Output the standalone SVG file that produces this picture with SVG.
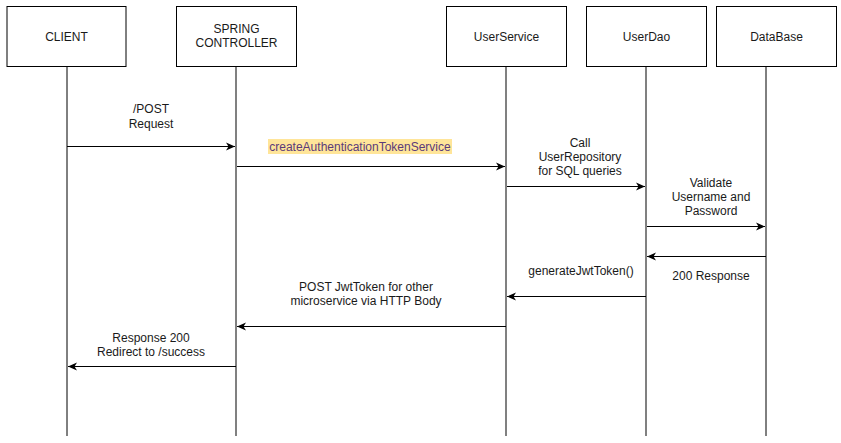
<svg xmlns="http://www.w3.org/2000/svg" width="841" height="443" viewBox="0 0 841 443">
<style>
.box{fill:#fff;stroke:#000;stroke-width:1}
.life{stroke:#000;stroke-width:1;fill:none}
.lifeg{stroke:#808080;stroke-width:2;fill:none}
.msg{stroke:#000;stroke-width:1;fill:none;marker-end:url(#arr)}
text{font-family:"Liberation Sans",Arial,sans-serif;font-size:12px;fill:#1a1a1a;text-anchor:middle}
</style>
<defs>
<marker id="arr" viewBox="0 0 10 10" refX="9" refY="5" markerWidth="10" markerHeight="10" markerUnits="userSpaceOnUse" orient="auto">
<path d="M0,1 L9,5 L0,9 L2.5,5 Z" fill="#000"/>
</marker>
</defs>
<rect width="841" height="443" fill="#fff"/>
<g id="lifelines">
<line class="life" x1="67" y1="66" x2="67" y2="436"/>
<line class="lifeg" x1="236" y1="66" x2="236" y2="436"/>
<line class="lifeg" x1="506" y1="66" x2="506" y2="436"/>
<line class="lifeg" x1="646" y1="66" x2="646" y2="436"/>
<line class="life" x1="766" y1="66" x2="766" y2="436"/>
</g>
<g id="client"><rect class="box" x="7" y="6.5" width="119" height="60"/><text x="66.5" y="41">CLIENT</text></g>
<g id="spring"><rect class="box" x="176.5" y="6.5" width="120" height="60"/><text x="236.5" y="33">SPRING</text><text x="236.5" y="47">CONTROLLER</text></g>
<g id="userservice"><rect class="box" x="446.5" y="6.5" width="120" height="60"/><text x="506.5" y="41">UserService</text></g>
<g id="userdao"><rect class="box" x="586.5" y="6.5" width="120" height="60"/><text x="646.5" y="41">UserDao</text></g>
<g id="database"><rect class="box" x="716.5" y="6.5" width="120" height="60"/><text x="776.5" y="41">DataBase</text></g>
<g id="connectors">
<line class="msg" x1="67" y1="146.5" x2="235" y2="146.5"/>
<line class="msg" x1="237" y1="166.5" x2="505" y2="166.5"/>
<line class="msg" x1="507" y1="186.5" x2="645" y2="186.5"/>
<line class="msg" x1="647" y1="226.5" x2="765" y2="226.5"/>
<line class="msg" x1="766" y1="256.5" x2="647" y2="256.5"/>
<line class="msg" x1="646" y1="296.5" x2="507" y2="296.5"/>
<line class="msg" x1="506" y1="326.5" x2="237" y2="326.5"/>
<line class="msg" x1="236" y1="366.5" x2="68" y2="366.5"/>
</g>
<g id="labels">
<text x="151" y="113">/POST</text>
<text x="151" y="128">Request</text>
<rect x="268" y="139" width="184" height="15" fill="#ffe599"/>
<text x="360" y="151" style="fill:#5b3a7a">createAuthenticationTokenService</text>
<text x="580" y="147">Call</text>
<text x="580" y="161">UserRepository</text>
<text x="580" y="175">for SQL queries</text>
<text x="711" y="187">Validate</text>
<text x="711" y="201">Username and</text>
<text x="711" y="215">Password</text>
<text x="711" y="280">200 Response</text>
<text x="581" y="275">generateJwtToken()</text>
<text x="366" y="291">POST JwtToken for other</text>
<text x="366" y="305">microservice via HTTP Body</text>
<text x="151" y="342">Response 200</text>
<text x="151" y="356">Redirect to /success</text>
</g>
</svg>
